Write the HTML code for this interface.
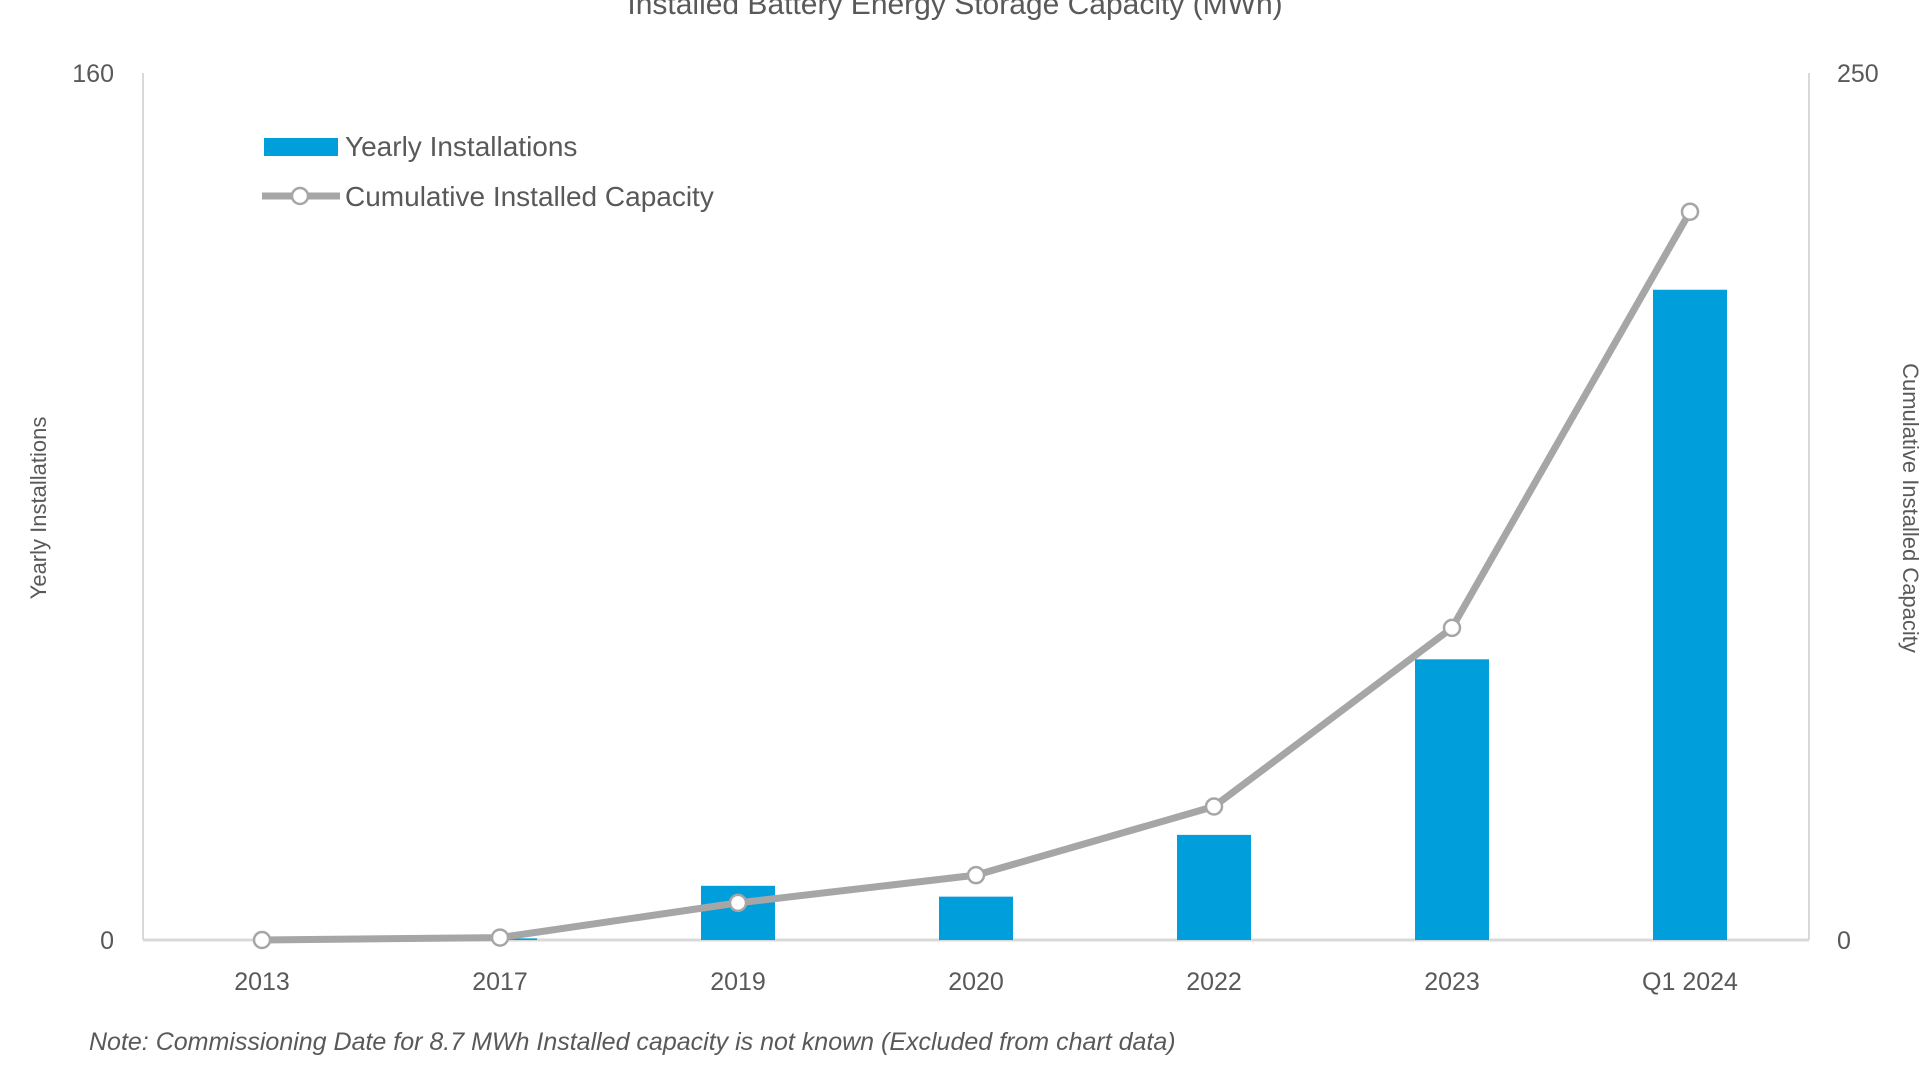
<!DOCTYPE html>
<html><head><meta charset="utf-8"><style>
body{margin:0;background:#fff;}
svg{display:block;font-family:"Liberation Sans",sans-serif;}
</style></head><body>
<svg id="chart" width="1920" height="1080">
<text x="955" y="14" text-anchor="middle" font-size="30" fill="#595959">Installed Battery Energy Storage Capacity (MWh)</text>
<g id="axes"></g>
<g id="bars"></g>
<g id="line"></g>
<text transform="translate(46,508) rotate(-90)" text-anchor="middle" font-size="22" fill="#595959">Yearly Installations</text>
<text transform="translate(1903,508) rotate(90)" text-anchor="middle" font-size="22" fill="#595959">Cumulative Installed Capacity</text>
<g>
<rect x="264" y="138" width="74" height="18" fill="#009fdb"/>
<text x="345" y="156" font-size="28" fill="#595959">Yearly Installations</text>
<line x1="262" y1="196" x2="340" y2="196" stroke="#a6a6a6" stroke-width="7"/>
<circle cx="300" cy="196" r="8" fill="#fff" stroke="#a6a6a6" stroke-width="2.5"/>
<text x="345" y="206" font-size="28" fill="#595959">Cumulative Installed Capacity</text>
</g>
<text x="89" y="1050" font-size="25" font-style="italic" fill="#595959">Note: Commissioning Date for 8.7 MWh Installed capacity is not known (Excluded from chart data)</text>
</svg>
<script>
const categories=["2013","2017","2019","2020","2022","2023","Q1 2024"];
const yearly=[0,0.3,10,8,19.4,51.8,120];
const cumulative=[0,0.7,10.7,18.7,38.5,90,210];
const leftTicks=["0","160"];
const rightTicks=["0","250"];
const NS="http://www.w3.org/2000/svg";
const L=143,R=1809,T=73,B=940,LMAX=160,RMAX=250;
const bw=(R-L)/categories.length;
function xc(i){return L+bw*(i+0.5);}
function yl(v){return B-(v/LMAX)*(B-T);}
function yr(v){return B-(v/RMAX)*(B-T);}
function mk(tag,attrs,parent){const e=document.createElementNS(NS,tag);for(const k in attrs)e.setAttribute(k,attrs[k]);parent.appendChild(e);return e;}
const axes=document.getElementById('axes');
let e=mk('line',{x1:L,y1:T,x2:L,y2:B,stroke:'#d9d9d9','stroke-width':2},axes);


e=mk('line',{x1:R,y1:T,x2:R,y2:B,stroke:'#d9d9d9','stroke-width':2},axes);


e=mk('line',{x1:L,y1:B,x2:R,y2:B,stroke:'#d9d9d9','stroke-width':3},axes);


leftTicks.forEach(t=>{const v=parseFloat(t);const el=mk('text',{x:114,y:yl(v)+9,'text-anchor':'end','font-size':25,fill:'#595959'},axes);el.textContent=t;

});
rightTicks.forEach(t=>{const v=parseFloat(t);const el=mk('text',{x:1837,y:yr(v)+9,'font-size':25,fill:'#595959'},axes);el.textContent=t;

});
categories.forEach((c,i)=>{const el=mk('text',{x:xc(i),y:990,'text-anchor':'middle','font-size':25,fill:'#595959'},axes);el.textContent=c;

});
const bars=document.getElementById('bars');
yearly.forEach((v,i)=>{const y=yl(v);const el=mk('rect',{x:xc(i)-37,y:y,width:74,height:B-y,fill:'#009fdb'},bars);

});
const lg=document.getElementById('line');
const pts=cumulative.map((v,i)=>xc(i)+','+yr(v)).join(' ');
e=mk('polyline',{points:pts,fill:'none',stroke:'#a6a6a6','stroke-width':7,'stroke-linejoin':'round'},lg);


cumulative.forEach((v,i)=>{const el=mk('circle',{cx:xc(i),cy:yr(v),r:8,fill:'#fff',stroke:'#a6a6a6','stroke-width':2.5},lg);

});
</script>
</body></html>
